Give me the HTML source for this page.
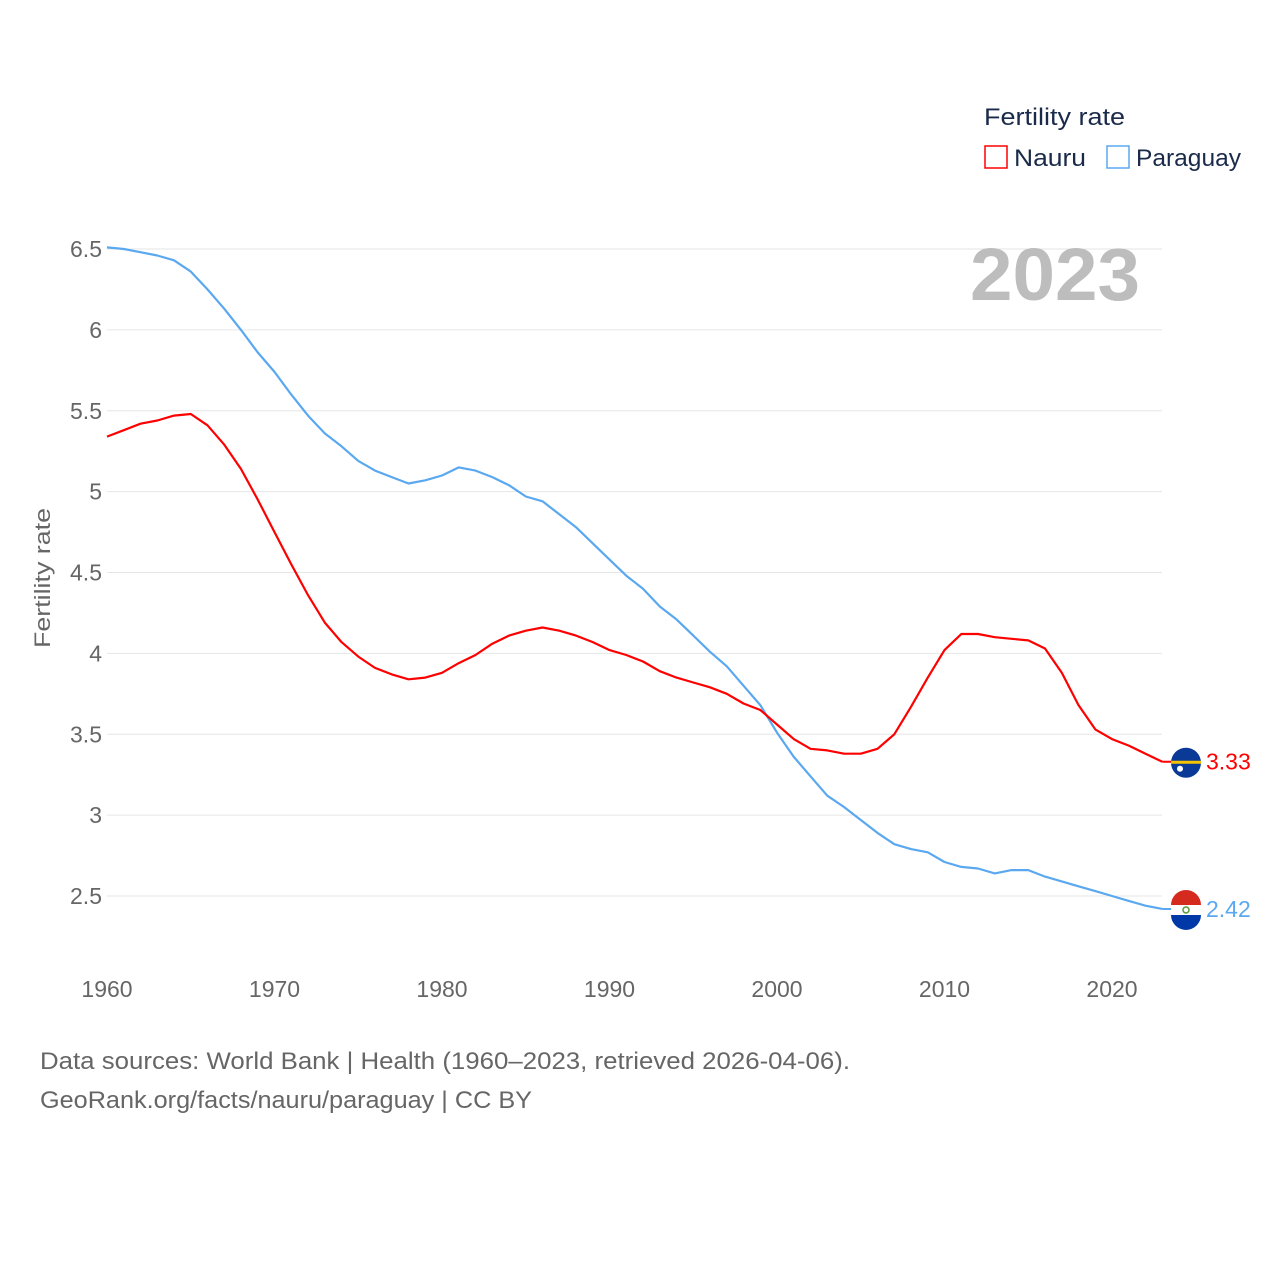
<!DOCTYPE html>
<html><head><meta charset="utf-8"><style>
html,body{margin:0;padding:0;background:#fff;width:1280px;height:1280px;overflow:hidden}
svg{font-family:"Liberation Sans",sans-serif}
</style></head><body>
<svg id="chart" width="1280" height="1280">
  <g id="grid"></g>
  <g id="yticks"></g>
  <g id="xticks"></g>
  <text x="50" y="578" transform="rotate(-90 50 578)" text-anchor="middle" font-size="22" fill="#666" textLength="140" lengthAdjust="spacingAndGlyphs">Fertility rate</text>
  <text x="970" y="300" font-size="74" font-weight="bold" fill="#bdbdbd" textLength="170" lengthAdjust="spacingAndGlyphs">2023</text>
  <g>
    <text x="984" y="125" font-size="24" fill="#1a2a4a" textLength="141" lengthAdjust="spacingAndGlyphs">Fertility rate</text>
    <g>
      <rect x="985" y="146" width="22" height="22" fill="none" stroke="#f00" stroke-width="1.5"/>
      <text x="1014" y="166" font-size="24" fill="#1a2a4a" textLength="72" lengthAdjust="spacingAndGlyphs">Nauru</text>
    </g>
    <g>
      <rect x="1107" y="146" width="22" height="22" fill="none" stroke="#5aa8f0" stroke-width="1.5"/>
      <text x="1136" y="166" font-size="24" fill="#1a2a4a" textLength="105" lengthAdjust="spacingAndGlyphs">Paraguay</text>
    </g>
  </g>
  <g id="series"></g>
  <text x="40" y="1069" font-size="24" fill="#666" textLength="810" lengthAdjust="spacingAndGlyphs">Data sources: World Bank | Health (1960–2023, retrieved 2026-04-06).</text>
  <text x="40" y="1108" font-size="24" fill="#666" textLength="492" lengthAdjust="spacingAndGlyphs">GeoRank.org/facts/nauru/paraguay | CC BY</text>
</svg>
<script>
const years = Array.from({length:64},(_,i)=>1960+i);
const nauru = [5.34,5.38,5.42,5.44,5.47,5.48,5.41,5.29,5.14,4.95,4.75,4.55,4.36,4.19,4.07,3.98,3.91,3.87,3.84,3.85,3.88,3.94,3.99,4.06,4.11,4.14,4.16,4.14,4.11,4.07,4.02,3.99,3.95,3.89,3.85,3.82,3.79,3.75,3.69,3.65,3.56,3.47,3.41,3.40,3.38,3.38,3.41,3.50,3.67,3.85,4.02,4.12,4.12,4.10,4.09,4.08,4.03,3.88,3.68,3.53,3.47,3.43,3.38,3.33];
const paraguay = [6.51,6.50,6.48,6.46,6.43,6.36,6.25,6.13,6.00,5.86,5.74,5.60,5.47,5.36,5.28,5.19,5.13,5.09,5.05,5.07,5.10,5.15,5.13,5.09,5.04,4.97,4.94,4.86,4.78,4.68,4.58,4.48,4.40,4.29,4.21,4.11,4.01,3.92,3.80,3.68,3.51,3.36,3.24,3.12,3.05,2.97,2.89,2.82,2.79,2.77,2.71,2.68,2.67,2.64,2.66,2.66,2.62,2.59,2.56,2.53,2.50,2.47,2.44,2.42];
const yTicks = [2.5,3,3.5,4,4.5,5,5.5,6,6.5];
const xTicks = [1960,1970,1980,1990,2000,2010,2020];
const NS="http://www.w3.org/2000/svg";
const xs = y => 107 + (y-1960)*16.75;
const ys = v => 249 + (6.5-v)*161.75;
function mk(tag, attrs, parent){const e=document.createElementNS(NS,tag);for(const k in attrs)e.setAttribute(k,attrs[k]);parent.appendChild(e);return e;}
const grid=document.getElementById('grid'), yt=document.getElementById('yticks'), xt=document.getElementById('xticks'), ser=document.getElementById('series');
yTicks.forEach(t=>{
  const l=mk('line',{x1:107,x2:1162,y1:ys(t),y2:ys(t),stroke:'#e6e6e6','stroke-width':1},grid);
  
  
  const tx=mk('text',{x:102,y:ys(t)+8,'text-anchor':'end','font-size':23,fill:'#666'},yt);
  tx.textContent=String(t);
  
  
});
xTicks.forEach(t=>{
  const tx=mk('text',{x:xs(t),y:997,'text-anchor':'middle','font-size':23,fill:'#666'},xt);
  tx.textContent=String(t);
  
  
});
function line(vals,color,name){
  const d=vals.map((v,i)=>(i?'L':'M')+xs(years[i]).toFixed(1)+','+ys(v).toFixed(1)).join('');
  const p=mk('path',{d:d,fill:'none',stroke:color,'stroke-width':2.2,'stroke-linejoin':'round'},ser);
  
  
}
line(paraguay,'#5aa8f0','paraguay-line');
line(nauru,'#f00','nauru-line');
function endMark(vals,color,name,flag){
  const v=vals[vals.length-1], x=xs(years[years.length-1]), y=ys(v);
  mk('line',{x1:x,x2:x+24,y1:y,y2:y,stroke:color,'stroke-width':2},ser);
  const g=mk('g',{},ser);
  
  
  if(flag==='nr'){
    mk('circle',{cx:1186,cy:y+1,r:15,fill:'#0a3a96'},g);
    mk('rect',{x:1171,y:y-1,width:30,height:3,fill:'#f5c400'},g);
    mk('circle',{cx:1180,cy:y+7,r:3,fill:'#fff'},g);
  } else {
    mk('circle',{cx:1186,cy:y+1,r:15,fill:'#fff'},g);
    mk('path',{d:`M1171,${y-4} A15,15 0 0 1 1201,${y-4} Z`,fill:'#d52b1e'},g);
    mk('path',{d:`M1171,${y+6} A15,15 0 0 0 1201,${y+6} Z`,fill:'#0038a8'},g);
    mk('circle',{cx:1186,cy:y+1,r:3,fill:'none',stroke:'#5a9a3a','stroke-width':1.5},g);
  }
  const tx=mk('text',{x:1206,y:y+8,'font-size':23,fill:color},ser);
  tx.textContent=v.toFixed(2);
  
  
}
endMark(nauru,'#f00','nauru','nr');
endMark(paraguay,'#5aa8f0','paraguay','py');
</script>
</body></html>
